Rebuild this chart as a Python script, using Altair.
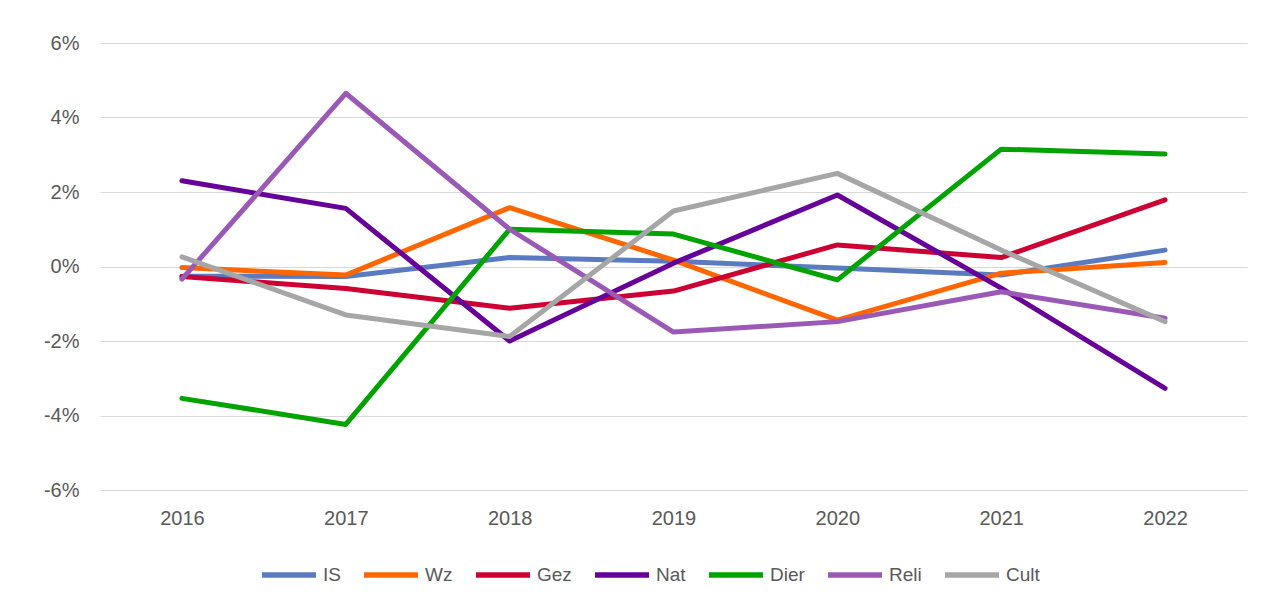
import altair as alt
import pandas as pd

years = ["2016", "2017", "2018", "2019", "2020", "2021", "2022"]
series_names = ["IS", "Wz", "Gez", "Nat", "Dier", "Reli", "Cult"]
colors = ["#5B7BC0", "#FF6600", "#CC0033", "#660099", "#00A300", "#9B59B6", "#A6A6A6"]

IS = [-0.26, -0.27, 0.24, 0.14, -0.04, -0.23, 0.44]
Wz = [-0.03, -0.23, 1.58, 0.17, -1.44, -0.18, 0.11]
Gez = [-0.27, -0.59, -1.12, -0.66, 0.58, 0.24, 1.79]
Nat = [2.30, 1.56, -2.00, 0.09, 1.92, -0.58, -3.27]
Dier = [-3.54, -4.24, 1.00, 0.87, -0.36, 3.15, 3.02]
Reli = [-0.34, 4.65, 1.00, -1.76, -1.48, -0.68, -1.39]
Cult = [0.26, -1.30, -1.88, 1.49, 2.50, 0.44, -1.48]

all_values = [IS, Wz, Gez, Nat, Dier, Reli, Cult]

rows = []
for si, (name, vals) in enumerate(zip(series_names, all_values)):
    for y, v in zip(years, vals):
        rows.append({"Jaar": y, "Reeks": name, "Waarde": v, "idx": si})
df = pd.DataFrame(rows)

txt = "#595959"

chart = alt.Chart(df).mark_line(strokeWidth=5, strokeCap="round", strokeJoin="round").encode(
    x=alt.X("Jaar:N", sort=years,
            scale=alt.Scale(type="point", padding=0.5),
            axis=alt.Axis(title=None, labelAngle=0, domain=False, ticks=False, tickSize=0, grid=False,
                          labelFont="Liberation Sans", labelFontSize=20, labelColor=txt,
                          labelPadding=18)),
    y=alt.Y("Waarde:Q",
            scale=alt.Scale(domain=[-6, 6], nice=False, zero=False),
            axis=alt.Axis(title=None, values=[-6, -4, -2, 0, 2, 4, 6], domain=False, ticks=False, tickSize=0,
                          labelExpr="datum.value + '%'", gridColor="#D9D9D9", gridWidth=1.2,
                          labelFont="Liberation Sans", labelFontSize=20, labelColor=txt,
                          labelPadding=21)),
    color=alt.Color("Reeks:N",
                    scale=alt.Scale(domain=series_names, range=colors),
                    sort=series_names,
                    legend=alt.Legend(title=None, orient="none", direction="horizontal",
                                      legendX=159, legendY=502, padding=0,
                                      symbolType="stroke", symbolStrokeWidth=5.5, symbolSize=2916,
                                      labelFont="Liberation Sans",
                                      labelFontSize=19, labelColor=txt,
                                      labelOffset=4, columnPadding=12)),
    order=alt.Order("idx:Q"),
    detail="Reeks:N",
).properties(
    width=1147,
    height=447,
    padding={"left": 92, "top": 35, "right": 33, "bottom": 112},
    autosize=alt.AutoSizeParams(type="none"),
    background="white",
).configure_view(stroke=None)

chart.save("out.html", embed_options={"renderer": "svg", "actions": False})
